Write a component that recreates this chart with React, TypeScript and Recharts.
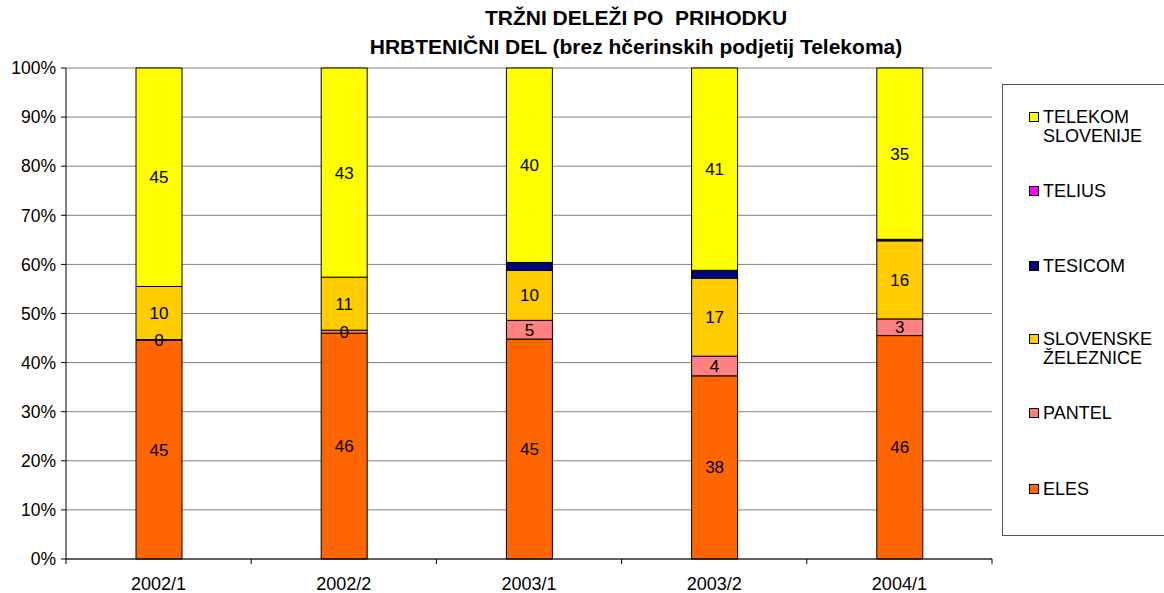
import { BarChart, Bar, XAxis, YAxis, CartesianGrid, LabelList } from 'recharts';

const categories = ['2002/1', '2002/2', '2003/1', '2003/2', '2004/1'];

// share of revenue per company (percent)
const eles = [44.5, 46.0, 44.8, 37.3, 45.5];
const pantel = [0.2, 0.6, 3.8, 4.0, 3.4];
const slovenskeZeleznice = [10.8, 10.8, 10.2, 15.9, 15.9];
const tesicom = [0, 0, 1.6, 1.6, 0.3];
const telius = [0, 0, 0, 0, 0];
const telekom = [44.5, 42.6, 39.6, 41.2, 34.9];

// data labels as printed on the bars
const elesLabels = [45, 46, 45, 38, 46];
const pantelLabels = [0, 0, 5, 4, 3];
const szLabels = [10, 11, 10, 17, 16];
const telekomLabels = [45, 43, 40, 41, 35];

const yTicks = [0, 0.1, 0.2, 0.3, 0.4, 0.5, 0.6, 0.7, 0.8, 0.9, 1];

const chartData = categories.map((cat, i) => ({
  cat,
  eles: eles[i],
  pantel: pantel[i],
  sz: slovenskeZeleznice[i],
  tesicom: tesicom[i],
  telius: telius[i],
  telekom: telekom[i],
  elesLabel: elesLabels[i],
  pantelLabel: pantelLabels[i],
  szLabel: szLabels[i],
  telekomLabel: telekomLabels[i],
}));

const legendItems = [
  { lines: ['TELEKOM', 'SLOVENIJE'], color: '#FFFF00', top: 108 },
  { lines: ['TELIUS'], color: '#FF00FF', top: 182 },
  { lines: ['TESICOM'], color: '#000080', top: 257 },
  { lines: ['SLOVENSKE', 'ŽELEZNICE'], color: '#FFCC00', top: 330 },
  { lines: ['PANTEL'], color: '#FF8080', top: 404 },
  { lines: ['ELES'], color: '#FF6600', top: 480 },
];

const FONT = '"Liberation Sans", Arial, sans-serif';
const W = 1164;
const H = 593;
const PLOT_LEFT = 66;
const PLOT_RIGHT = 992;
const PLOT_BOTTOM = 559;
const BAND = (PLOT_RIGHT - PLOT_LEFT) / categories.length;

const XTick = (props: any) => {
  const { x, payload, index } = props;
  return (
    <g>
      <line x1={x - BAND / 2} x2={x - BAND / 2} y1={PLOT_BOTTOM} y2={PLOT_BOTTOM + 5} stroke="#000" />
      {index === categories.length - 1 && (
        <line x1={x + BAND / 2} x2={x + BAND / 2} y1={PLOT_BOTTOM} y2={PLOT_BOTTOM + 5} stroke="#000" />
      )}
      <text x={x} y={PLOT_BOTTOM + 31} textAnchor="middle" fontSize={18} fontFamily={FONT} fill="#000">
        {payload.value}
      </text>
    </g>
  );
};

const labelStyle = { fontSize: 17, fontFamily: FONT, fill: '#000' };

export default function App() {
  return (
    <div style={{ position: 'absolute', left: 0, top: 0, width: W, height: H, background: '#fff', fontFamily: FONT }}>
      <div style={{ position: 'absolute', left: 0, width: 1272, top: 3, textAlign: 'center', fontWeight: 'bold', fontSize: 21, lineHeight: '29px', color: '#000' }}>
        <div>TRŽNI DELEŽI PO&nbsp; PRIHODKU</div>
        <div>HRBTENIČNI DEL (brez hčerinskih podjetij Telekoma)</div>
      </div>
      <BarChart
        width={W}
        height={H}
        data={chartData}
        stackOffset="expand"
        barSize={46}
        margin={{ top: 68, right: W - PLOT_RIGHT, bottom: 0, left: 0 }}
      >
        <CartesianGrid vertical={false} stroke="#808080" />
        <XAxis dataKey="cat" height={H - PLOT_BOTTOM} tickLine={false} stroke="#000" tick={<XTick />} interval={0} />
        <YAxis
          width={PLOT_LEFT}
          domain={[0, 1]}
          ticks={yTicks}
          tickFormatter={(v: number) => `${Math.round(v * 100)}%`}
          stroke="#000"
          tick={{ fontSize: 17.5, fontFamily: FONT, fill: '#000' }}
          tickSize={5}
          tickMargin={5}
        />
        <Bar dataKey="eles" stackId="a" fill="#FF6600" stroke="#000" isAnimationActive={false}>
          <LabelList dataKey="elesLabel" position="center" style={labelStyle} />
        </Bar>
        <Bar dataKey="pantel" stackId="a" fill="#FF8080" stroke="#000" isAnimationActive={false}>
          <LabelList dataKey="pantelLabel" position="center" style={labelStyle} />
        </Bar>
        <Bar dataKey="sz" stackId="a" fill="#FFCC00" stroke="#000" isAnimationActive={false}>
          <LabelList dataKey="szLabel" position="center" style={labelStyle} />
        </Bar>
        <Bar dataKey="tesicom" stackId="a" fill="#000080" stroke="#000" isAnimationActive={false} />
        <Bar dataKey="telius" stackId="a" fill="#FF00FF" stroke="#000" isAnimationActive={false} />
        <Bar dataKey="telekom" stackId="a" fill="#FFFF00" stroke="#000" isAnimationActive={false}>
          <LabelList dataKey="telekomLabel" position="center" style={labelStyle} />
        </Bar>
      </BarChart>
      <div style={{ position: 'absolute', left: 1002, top: 84, width: 180, height: 450, border: '1px solid #555' }} />
      {legendItems.map((item) => (
        <div key={item.lines[0]} style={{ position: 'absolute', left: 1029, top: item.top, fontSize: 18, lineHeight: '19px', color: '#000' }}>
          <span style={{ position: 'absolute', left: 0, top: 4, width: 8, height: 8, background: item.color, border: '1px solid #000' }} />
          <div style={{ marginLeft: 14 }}>
            {item.lines.map((l) => (
              <div key={l}>{l}</div>
            ))}
          </div>
        </div>
      ))}
    </div>
  );
}
